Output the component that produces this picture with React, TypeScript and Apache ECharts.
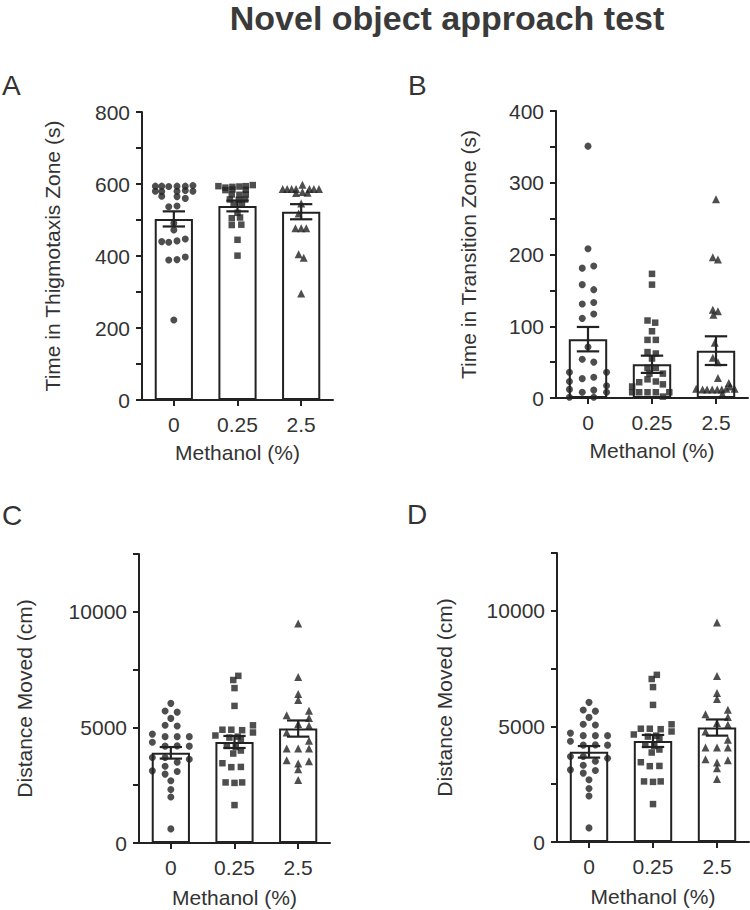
import React, { useEffect, useRef } from "react";
import * as echarts from "echarts";

// ---------- data ----------
const categories = ["0", "0.25", "2.5"];
const xAxisTitle = "Methanol (%)";
const mainTitle = "Novel object approach test";
const panelLetters = ["A", "B", "C", "D"];
const yTitles = [
  "Time in Thigmotaxis Zone (s)",
  "Time in Transition Zone (s)",
  "Distance Moved (cm)",
  "Distance Moved (cm)",
];
// y axis: max, tick interval, label step
const yMax = [800, 400, 12500, 12500];
const yTickInterval = [100, 50, 2500, 2500];
const yLabelStep = [200, 100, 5000, 5000];

// Panel A – thigmotaxis zone (s)
const aMeans = [503, 539, 523];
const aSem = [21, 15, 21];
// [jitter offset in category widths, value]
const aPts0: [number, number][] = [
  [-0.29, 594], [-0.19, 594], [-0.08, 593], [0.05, 594], [0.18, 594], [0.3, 596],
  [-0.29, 580], [-0.19, 579], [0.05, 580], [0.18, 582], [0.3, 580],
  [-0.19, 566], [0.05, 565], [0.18, 560],
  [-0.08, 537], [0.05, 539],
  [0, 491], [0, 472],
  [-0.19, 440], [-0.08, 438], [0.05, 442], [0.18, 447],
  [-0.08, 389], [0.05, 390], [0.18, 397],
  [0, 222],
];
const aPts1: [number, number][] = [
  [-0.3, 594], [-0.19, 590], [-0.08, 592], [0.03, 593], [0.13, 594], [0.24, 597],
  [-0.19, 583], [-0.08, 585], [0.13, 584],
  [-0.09, 571], [0.03, 570], [0.13, 571],
  [-0.12, 557], [0.02, 556], [0.12, 557],
  [-0.06, 543], [0.07, 545],
  [0, 520],
  [-0.09, 505], [0.04, 507],
  [-0.09, 486], [0.06, 487],
  [0, 445],
  [0, 401],
];
const aPts2: [number, number][] = [
  [-0.29, 586], [-0.22, 586], [-0.15, 586], [-0.08, 586], [0.02, 598], [0.13, 586], [0.2, 586], [0.28, 586],
  [-0.08, 575], [0.02, 578], [0.1, 576],
  [0, 546],
  [-0.04, 518],
  [-0.09, 477], [0, 477], [0.08, 477],
  [-0.04, 405], [0.04, 395],
  [0, 296],
];

// Panel B – transition zone (s)
const bMeans = [82, 47, 66];
const bSem = [17, 12, 20];
const bPts0: [number, number][] = [
  [0, 351], [0, 208], [-0.09, 181], [0.09, 184], [-0.09, 158], [0.09, 151],
  [-0.09, 131], [0.09, 133], [-0.09, 111], [0.09, 117], [0, 71],
  [-0.09, 54], [0.09, 50], [-0.29, 36], [0.29, 36], [-0.09, 27], [0.09, 29],
  [-0.29, 23], [0.29, 17], [-0.29, 12], [-0.09, 8], [0.09, 11], [0.29, 8],
  [-0.29, 1], [0.09, 1],
];
const bPts1: [number, number][] = [
  [0, 173], [0, 158], [-0.07, 108], [0.05, 105], [0, 93], [-0.07, 81], [0.06, 81],
  [-0.07, 64], [0.06, 62], [0, 55], [-0.07, 42], [0.06, 42], [-0.04, 34], [0.17, 34],
  [-0.2, 22], [-0.07, 26], [0.06, 23], [0.17, 19], [-0.31, 16],
  [-0.31, 8], [-0.2, 8], [-0.07, 8], [0.06, 8], [0.27, 8], [0.17, 2],
];
const bPts2: [number, number][] = [
  [0, 277], [-0.05, 196], [0.03, 193], [-0.05, 123], [0.03, 121], [-0.04, 116],
  [-0.02, 77], [-0.05, 56], [0.03, 50], [0.03, 28],
  [-0.31, 13], [-0.21, 12], [-0.14, 12], [-0.06, 12], [0.02, 12], [0.09, 12],
  [0.16, 13], [0.22, 16], [0.29, 13], [0.2, 21], [0.1, 6],
];

// Panels C and D – distance moved (cm)
const cMeans = [3900, 4370, 4950];
const cSem = [250, 260, 350];
const cPts0: [number, number][] = [
  [0, 6040], [-0.09, 5710], [0.1, 5660], [0, 5390], [-0.09, 5090], [0.1, 5060],
  [-0.29, 4710], [0.29, 4600], [-0.09, 4600], [0.1, 4600], [-0.29, 4360], [0.29, 4190],
  [-0.09, 4190], [0.1, 4200], [-0.29, 3700], [-0.09, 3700], [0.29, 3620], [0.1, 3490],
  [-0.09, 3320], [-0.29, 3120], [0.1, 3090], [-0.09, 2980], [0, 2690], [0, 2310],
  [0, 1990], [0, 610],
];
const cPts1: [number, number][] = [
  [0.06, 7230], [-0.02, 7050], [0, 6700], [0, 5930], [0.29, 5090], [-0.19, 4900],
  [-0.05, 4900], [0.12, 4880], [0.29, 4780], [-0.3, 4650], [-0.08, 4560], [0.05, 4600],
  [0.1, 4480], [-0.12, 4200], [0.02, 4150], [0.1, 4000], [-0.02, 3870], [-0.19, 3450],
  [-0.05, 3280], [0.1, 3290], [-0.14, 2620], [0, 2600], [0.12, 2620], [0, 1640],
];
const cPts2: [number, number][] = [
  [0, 9490], [0, 7180], [0, 6440], [0, 6190], [-0.18, 5530], [0.17, 5720], [0.17, 5410],
  [0, 5150], [-0.18, 4780], [0.17, 5070], [0.17, 4420], [-0.18, 4090], [0, 4090],
  [0.17, 4090], [-0.18, 3580], [0.17, 3540], [0, 3440], [0, 3190], [0, 2720],
];
const dMeans = cMeans;
const dSem = cSem;
const dPts0 = cPts0;
const dPts1 = cPts1;
const dPts2 = cPts2;

// ---------- styling ----------
const FONT = '"Liberation Sans", Arial, Helvetica, sans-serif';
const TXT = "#333333";
const INK = "#222222";
const symbols = ["circle", "rect", "triangle"];
const symSizes = [7, 6.5, 8];

type Pts = [number, number][];

interface PanelSpec {
  grid: { left: number; top: number; width: number; height: number };
  yNameGap: number;
  xNameGap: number;
  means: number[];
  sems: number[];
  pts: Pts[];
}

const panels: PanelSpec[] = [
  { grid: { left: 142, top: 112, width: 191, height: 288 }, yNameGap: 79, xNameGap: 42, means: aMeans, sems: aSem, pts: [aPts0, aPts1, aPts2] },
  { grid: { left: 556, top: 111, width: 192, height: 287 }, yNameGap: 77, xNameGap: 42, means: bMeans, sems: bSem, pts: [bPts0, bPts1, bPts2] },
  { grid: { left: 139, top: 554, width: 191, height: 289 }, yNameGap: 104, xNameGap: 44, means: cMeans, sems: cSem, pts: [cPts0, cPts1, cPts2] },
  { grid: { left: 557, top: 553, width: 192, height: 289 }, yNameGap: 102, xNameGap: 44, means: dMeans, sems: dSem, pts: [dPts0, dPts1, dPts2] },
];

function buildOption() {
  const grid: any[] = [];
  const xAxis: any[] = [];
  const yAxis: any[] = [];
  const series: any[] = [];

  panels.forEach((p, k) => {
    grid.push({ ...p.grid, containLabel: false, outerBoundsMode: "none" });
    xAxis.push({
      type: "category",
      gridIndex: k,
      data: categories,
      boundaryGap: true,
      name: xAxisTitle,
      nameLocation: "middle",
      nameGap: p.xNameGap,
      nameTextStyle: { fontFamily: FONT, fontSize: 21, color: TXT },
      axisLine: { show: true, onZero: false, lineStyle: { color: INK, width: 2 } },
      axisTick: { show: true, alignWithLabel: true, length: 6, lineStyle: { color: INK, width: 2 } },
      axisLabel: { fontFamily: FONT, fontSize: 21, color: TXT, margin: 14 },
      splitLine: { show: false },
    });
    xAxis.push({
      type: "value",
      gridIndex: k,
      min: -0.5,
      max: 2.5,
      show: false,
      axisLine: { show: false, onZero: false },
      splitLine: { show: false },
    });
    const step = yLabelStep[k];
    yAxis.push({
      type: "value",
      gridIndex: k,
      min: 0,
      max: yMax[k],
      interval: yTickInterval[k],
      name: yTitles[k],
      nameLocation: "middle",
      nameGap: p.yNameGap,
      nameTextStyle: { fontFamily: FONT, fontSize: 21, color: TXT },
      axisLine: { show: true, onZero: false, lineStyle: { color: INK, width: 2 } },
      axisTick: { show: true, length: 6, lineStyle: { color: INK, width: 2 } },
      axisLabel: {
        fontFamily: FONT,
        fontSize: 21,
        color: TXT,
        margin: 12,
        formatter: (v: number) => (v % step === 0 ? String(v) : ""),
      },
      splitLine: { show: false },
    });

    series.push({
      type: "bar",
      xAxisIndex: 2 * k,
      yAxisIndex: k,
      data: p.means,
      barWidth: "60%",
      itemStyle: { color: "#ffffff", borderColor: INK, borderWidth: 2 },
      z: 1,
      silent: true,
    });

    p.pts.forEach((grp, g) => {
      series.push({
        type: "scatter",
        xAxisIndex: 2 * k + 1,
        yAxisIndex: k,
        symbol: symbols[g],
        symbolSize: symSizes[g],
        itemStyle: { color: INK },
        data: grp.map(([o, v]) => [g + o, v]),
        z: 2,
        silent: true,
      });
    });

    series.push({
      type: "custom",
      xAxisIndex: 2 * k,
      yAxisIndex: k,
      data: p.means.map((m, i) => [i, m, p.sems[i]]),
      encode: { x: 0, y: 1 },
      z: 3,
      silent: true,
      renderItem: (params: any, api: any) => {
        const i = api.value(0);
        const m = api.value(1);
        const s = api.value(2);
        const top = api.coord([i, m + s]);
        const bot = api.coord([i, m - s]);
        const half = api.size([1, 0])[0] * 0.175;
        const st = { stroke: INK, lineWidth: 2.2 };
        return {
          type: "group",
          children: [
            { type: "line", shape: { x1: top[0], y1: top[1], x2: bot[0], y2: bot[1] }, style: st },
            { type: "line", shape: { x1: top[0] - half, y1: top[1], x2: top[0] + half, y2: top[1] }, style: st },
            { type: "line", shape: { x1: bot[0] - half, y1: bot[1], x2: bot[0] + half, y2: bot[1] }, style: st },
          ],
        };
      },
    });
  });

  const letterPos = [
    [2, 85],
    [408, 85],
    [2, 515],
    [407, 514],
  ];
  const graphic: any[] = [
    {
      type: "text",
      x: 447,
      y: 18,
      style: {
        text: mainTitle,
        font: `bold 34px ${FONT}`,
        fill: "#3a3a3a",
        textAlign: "center",
        textVerticalAlign: "middle",
        align: "center",
        verticalAlign: "middle",
      },
    },
    ...panelLetters.map((L, i) => ({
      type: "text",
      x: letterPos[i][0],
      y: letterPos[i][1],
      style: {
        text: L,
        font: `28px ${FONT}`,
        fill: TXT,
        textAlign: "left",
        textVerticalAlign: "middle",
        align: "left",
        verticalAlign: "middle",
      },
    })),
  ];

  return {
    animation: false,
    backgroundColor: "#ffffff",
    textStyle: { fontFamily: FONT },
    grid,
    xAxis,
    yAxis,
    series,
    graphic,
  };
}

export default function App() {
  const ref = useRef<HTMLDivElement>(null);
  useEffect(() => {
    if (!ref.current) return;
    const chart = echarts.init(ref.current, undefined, { renderer: "svg" });
    chart.setOption(buildOption() as any);
    return () => chart.dispose();
  }, []);
  return (
    <div
      ref={ref}
      style={{ position: "fixed", left: 0, top: 0, width: 750, height: 910, background: "#fff" }}
    />
  );
}
